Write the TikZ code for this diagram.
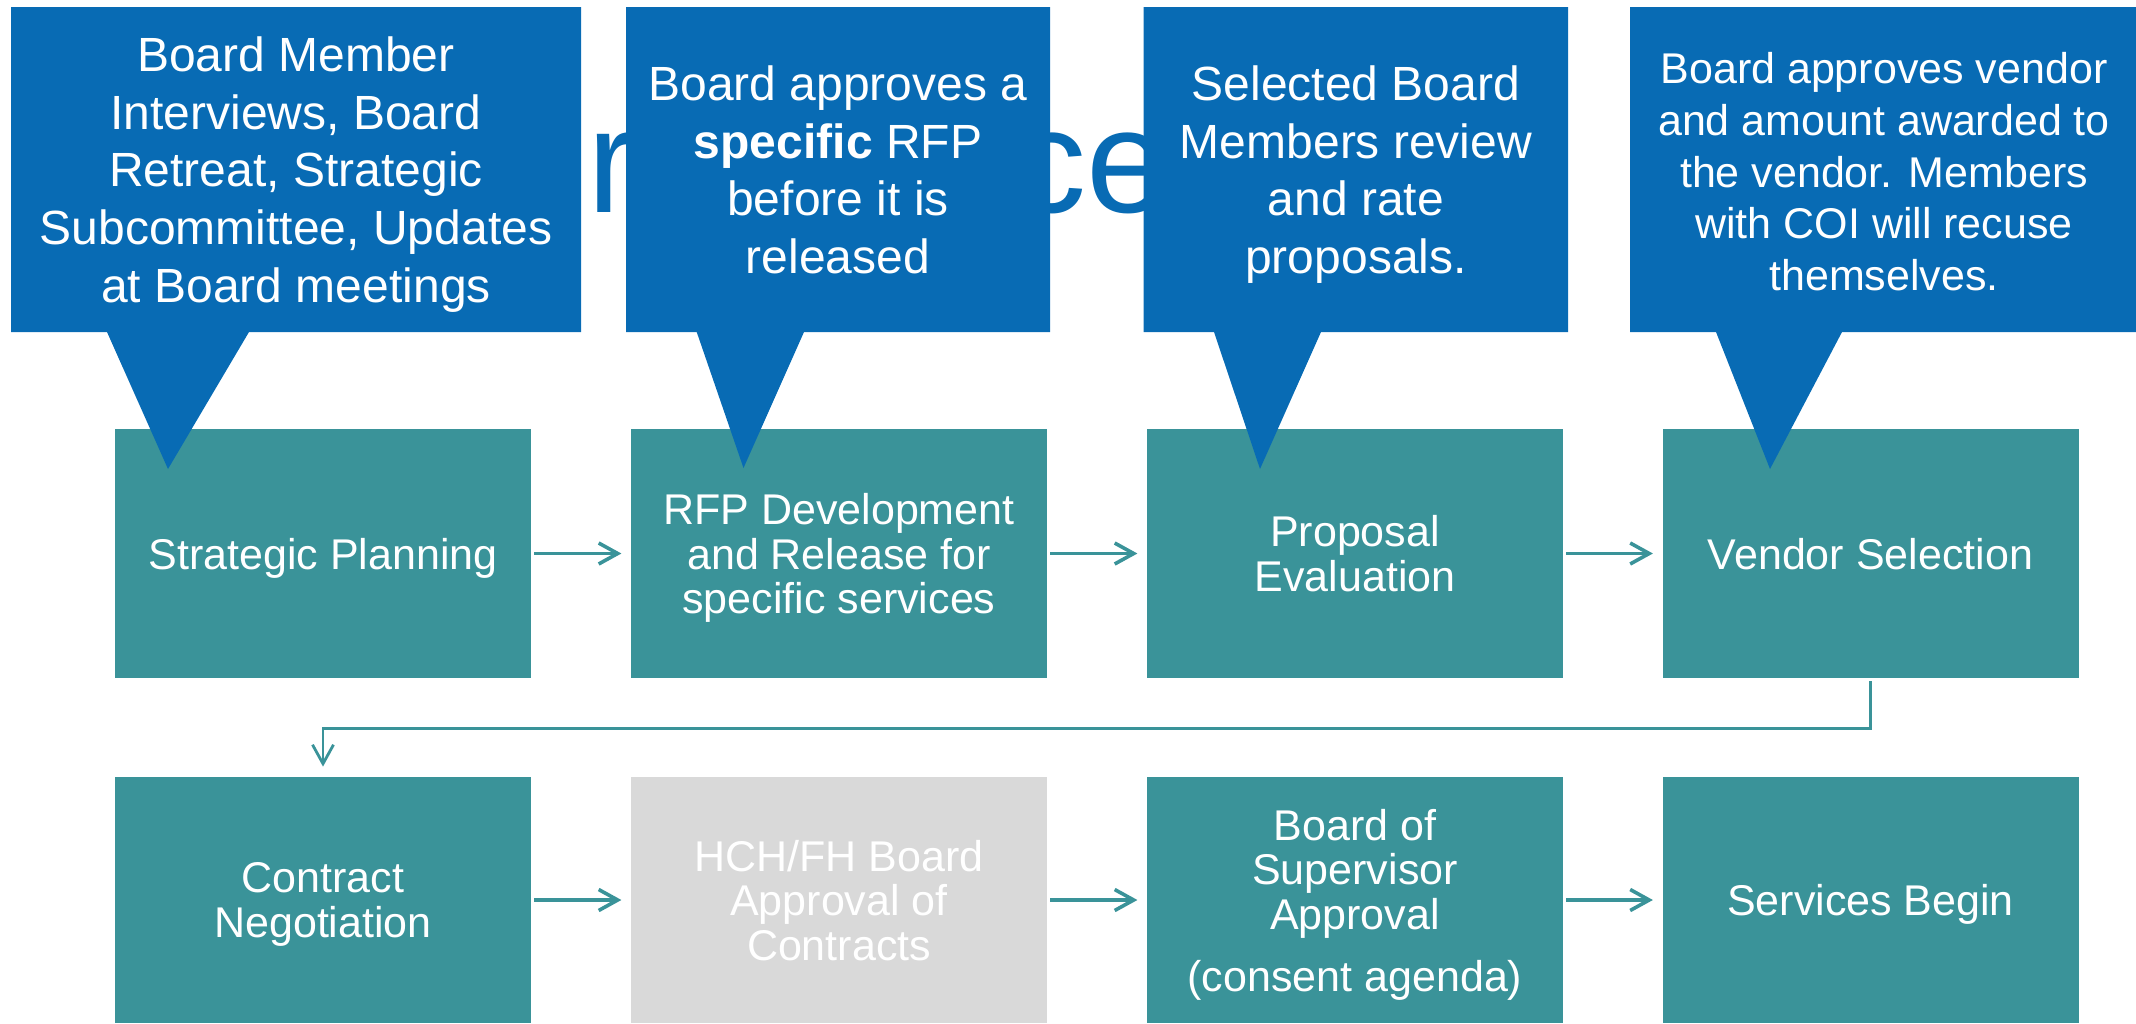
\documentclass[tikz,border=0pt]{standalone}
\usepackage{fontspec}
\setmainfont{Liberation Sans}
\usetikzlibrary{arrows.meta}
\definecolor{callblue}{HTML}{086BB4}
\definecolor{boxteal}{HTML}{3A9399}
\definecolor{boxgray}{HTML}{D9D9D9}
\begin{document}
\begin{tikzpicture}[x=0.5pt,y=-0.5pt,
  stepbox/.style={fill=boxteal, draw=none, minimum width=208pt, minimum height=124.5pt, inner sep=0pt, text depth=0pt, text=white, align=center, font=\fontsize{21.5pt}{22.25pt}\selectfont},
  lowbox/.style={stepbox, minimum height=123pt},
  graybox/.style={lowbox, fill=boxgray},
  callbox/.style={fill=callblue, draw=none},
  calltext/.style={text=white, align=center, inner sep=0pt, text depth=0pt, font=\fontsize{24pt}{28.85pt}\selectfont},
  calltextsmall/.style={calltext, font=\fontsize{21.5pt}{25.85pt}\selectfont},
  flow/.style={draw=boxteal, line width=1.8pt, -{Straight Barb[length=9.5pt,width=10.5pt]}, shorten <=1.5pt, shorten >=4.6pt},
  elbow/.style={flow, line width=1.4pt, shorten >=5pt},
  titletext/.style={text=callblue, inner sep=0pt, anchor=base west, font=\fontsize{74pt}{80pt}\selectfont}
]
\useasboundingbox (0,0) rectangle (2136,1023);
% title fragments (behind callouts)
\node[titletext] (t1) at (587.3,212.5) {r};
\node[titletext] (t2) at (1012.3,212.5) {ce};
% process boxes
\node[stepbox] (b1) at (323,553.5) {Strategic Planning};
\node[stepbox] (b2) at (839,553.5) {RFP Development\\and Release for\\specific services};
\node[stepbox] (b3) at (1355,553.5) {Proposal\\Evaluation};
\node[stepbox] (b4) at (1870.5,553.5) {Vendor Selection};
\node[lowbox] (b5) at (323,900) {Contract\\Negotiation};
\node[graybox] (b6) at (839,900) {HCH/FH Board\\Approval of\\Contracts};
\node[lowbox] (b7) at (1355,900) {Board of\\Supervisor\\Approval\\[8.75pt](consent agenda)};
\node[lowbox] (b8) at (1870.5,900) {Services Begin};
% connectors
\draw[flow] (b1) -- (b2);
\draw[flow] (b2) -- (b3);
\draw[flow] (b3) -- (b4);
\draw[flow] (b5) -- (b6);
\draw[flow] (b6) -- (b7);
\draw[flow] (b7) -- (b8);
\draw[elbow] (b4.south) -- ++(0,50) -| (b5.north);
% callouts
\fill[callbox] (11,7) -- (581,7) -- (581,332) -- (249,332) -- (168,469) -- (107,332) -- (11,332) -- cycle;
\fill[callbox] (626,7) -- (1050,7) -- (1050,332) -- (804,332) -- (743.5,468) -- (696.7,332) -- (626,332) -- cycle;
\fill[callbox] (1143.5,7) -- (1568,7) -- (1568,332) -- (1321,332) -- (1260,469) -- (1214,332) -- (1143.5,332) -- cycle;
\fill[callbox] (1630,7) -- (2136,7) -- (2136,332) -- (1842,332) -- (1770,469) -- (1716,332) -- (1630,332) -- cycle;
\node[calltext] (c1) at (296,169.5) {Board Member\\Interviews, Board\\Retreat, Strategic\\Subcommittee, Updates\\at Board meetings};
\node[calltext] (c2) at (838,169.5) {Board approves a\\\textbf{specific} RFP\\before it is\\released};
\node[calltext] (c3) at (1356,169.5) {Selected Board\\Members review\\and rate\\proposals.};
\node[calltextsmall] (c4) at (1884,171.5) {Board approves vendor\\and amount awarded to\\the vendor. Members\\with COI will recuse\\themselves.};
\end{tikzpicture}
\end{document}
